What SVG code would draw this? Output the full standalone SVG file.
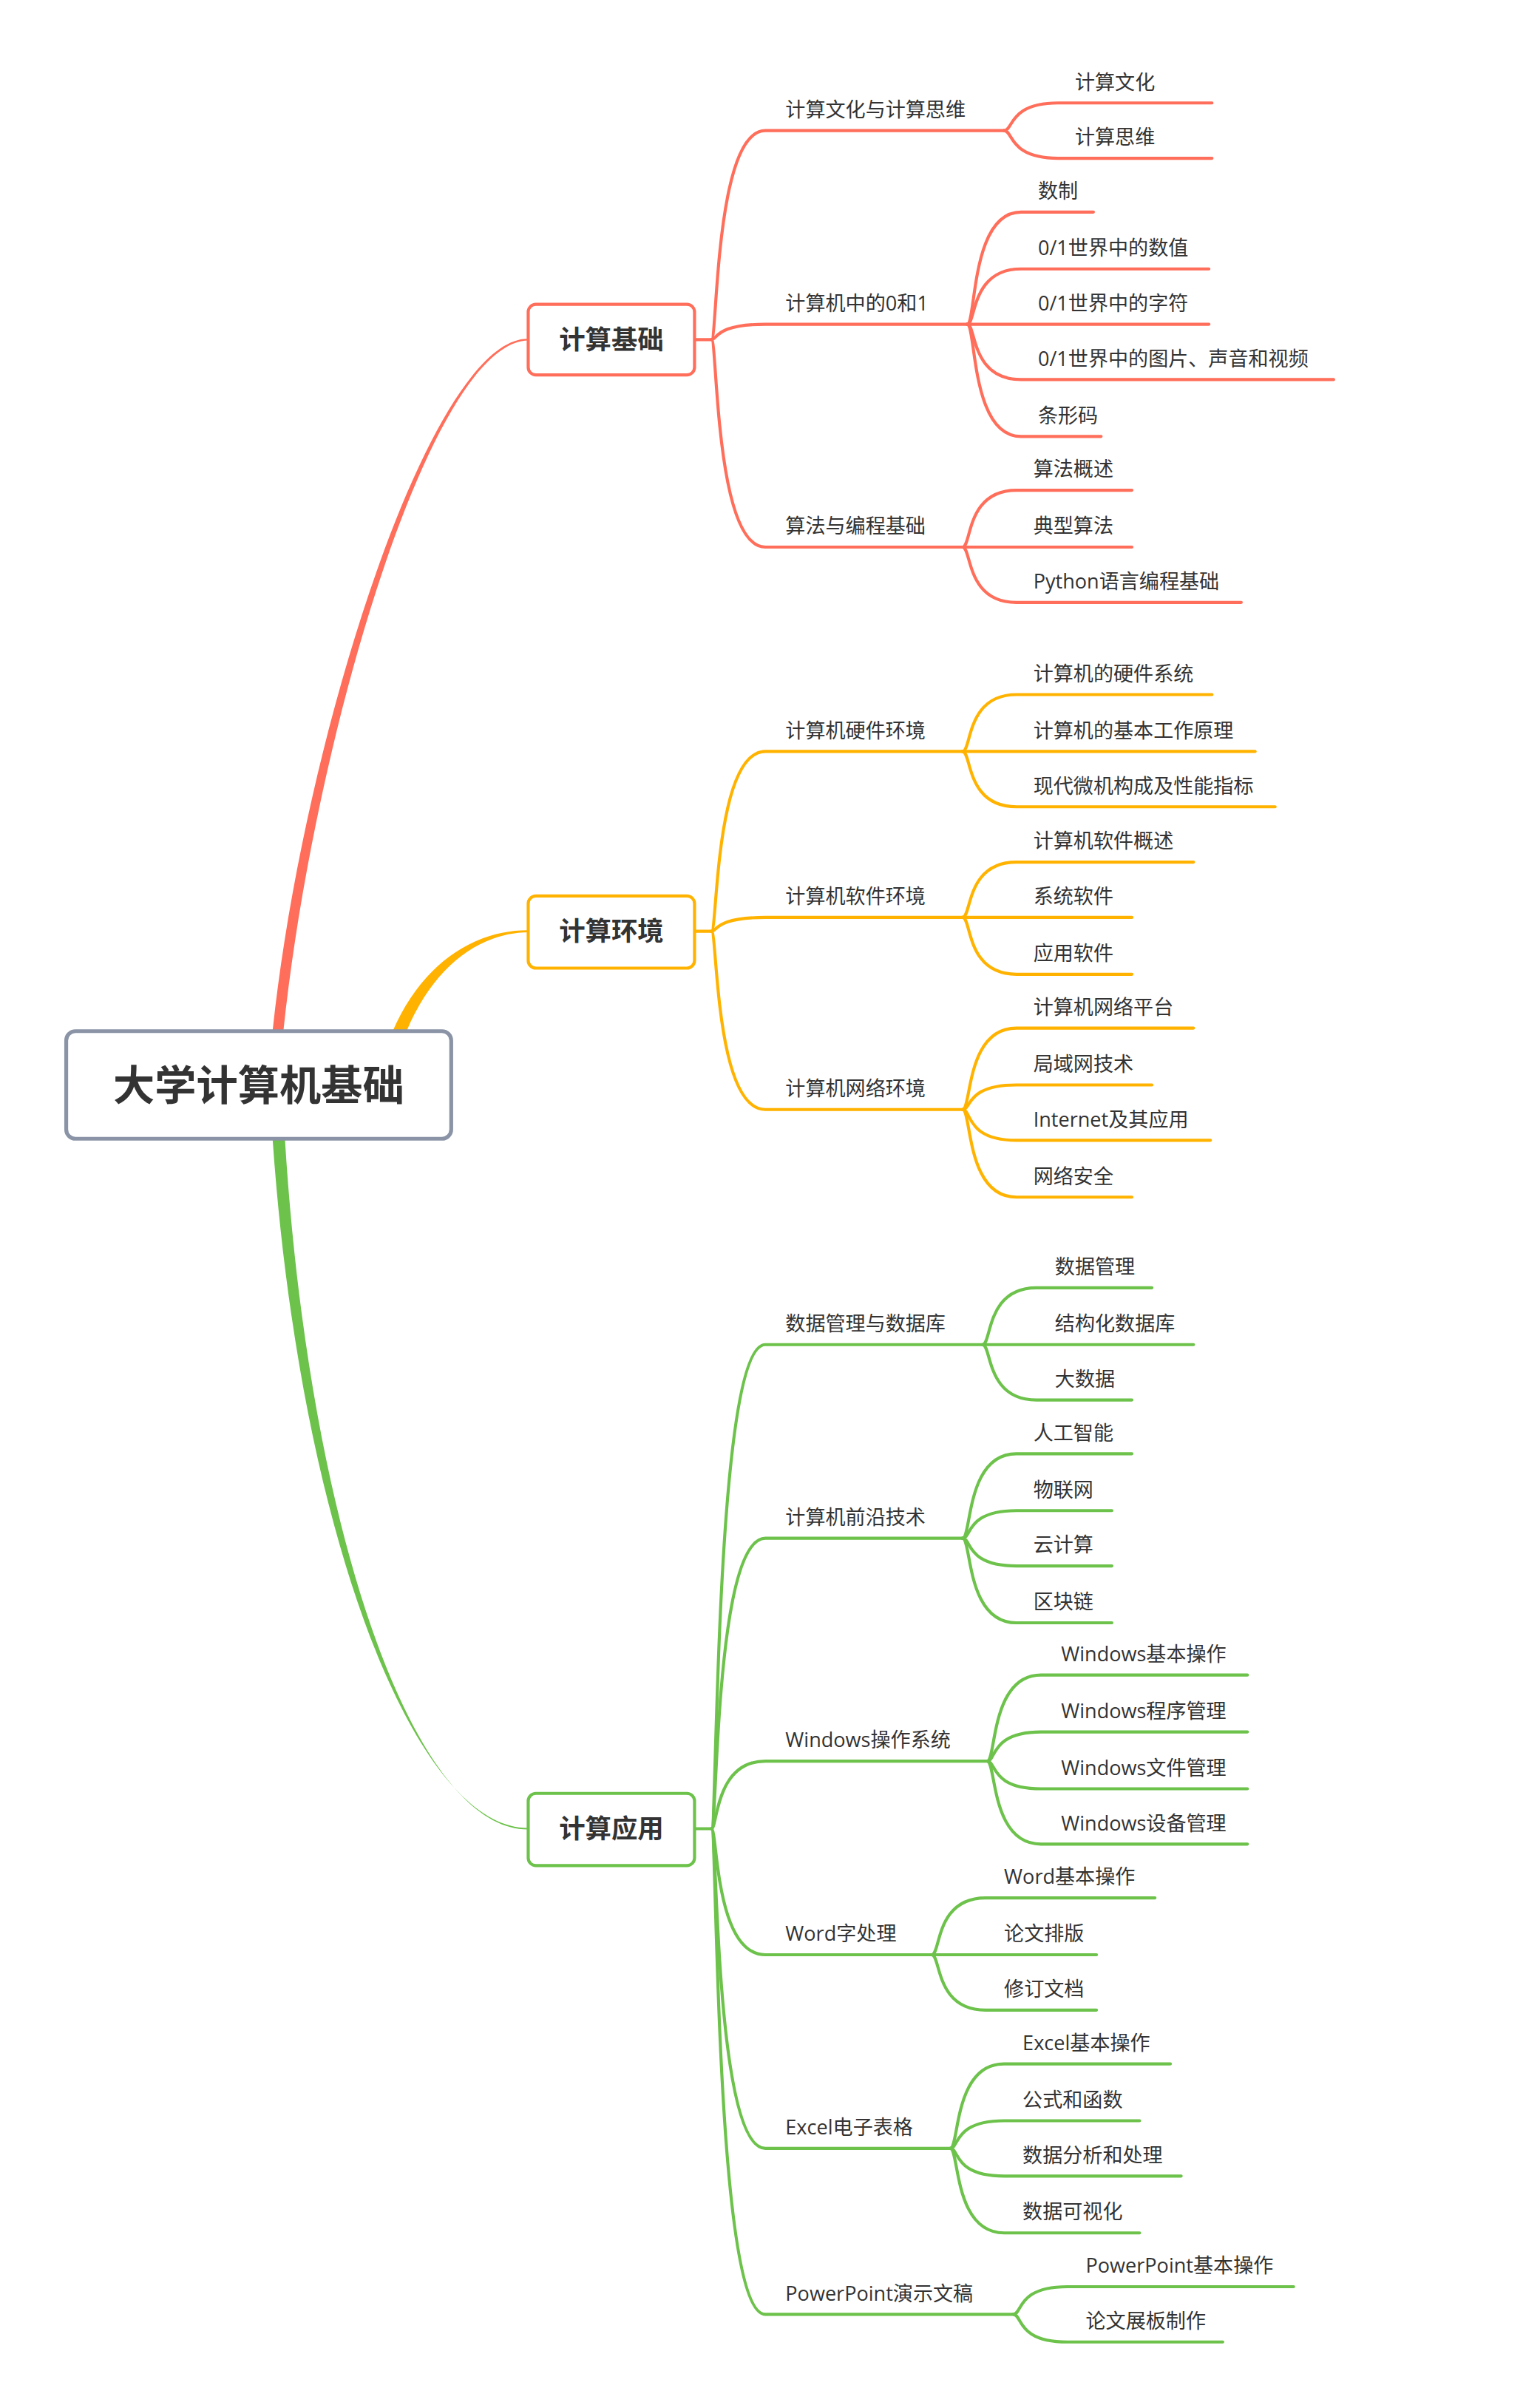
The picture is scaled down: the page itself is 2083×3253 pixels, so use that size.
<svg xmlns="http://www.w3.org/2000/svg" width="2083" height="3253" viewBox="0 0 2083 3253">
<style>
.t{font-family:"Open Sans","Noto Sans CJK SC",sans-serif;font-size:13px;fill:#333}
.b{font-family:"Noto Sans CJK SC",sans-serif;font-weight:bold;font-size:17px;fill:#333;text-anchor:middle}
.r{stroke:#FF6E5A}.y{stroke:#FFB300}.g{stroke:#6CC24A}
.c path{fill:none;stroke-width:2;stroke-linecap:round}
</style>
<rect width="2083" height="3253" fill="#fff"/>
<g transform="scale(2.083,2.0786)">
<g id="connectors" class="c">
<path d="M177,671 C197,480 280,219.5 343,220.5 L343,221.5 C280,222.5 204,480 184,671 Z" style="fill:#FF6E5A;stroke:none"/>
<path d="M255,671 C275,625 310,605 343,605.3 L343,606.7 C312,607 282,628 264,671 Z" style="fill:#FFB300;stroke:none"/>
<path d="M177,741 C195,1000 270,1190 343,1189.5 L343,1190.5 C270,1191 201,1000 185,741 Z" style="fill:#6CC24A;stroke:none"/>
<g class="r">
<path d="M451,221 L462,221 C466,221 464,85 497,85 L652,85"/>
<path d="M462,221 C466,221 464,211 497,211 L628,211"/>
<path d="M462,221 C466,221 464,356 497,356 L625,356"/>
<path d="M652,85 C658,85 655,67 687,67 L787,67"/>
<path d="M652,85 C658,85 655,103 687,103 L787,103"/>
<path d="M628,211 C634,211 630,138 663,138 L710,138"/>
<path d="M628,211 C634,211 630,175 663,175 L785,175"/>
<path d="M628,211 L785,211"/>
<path d="M628,211 C634,211 630,247 663,247 L866,247"/>
<path d="M628,211 C634,211 630,284 663,284 L715,284"/>
<path d="M625,356 C631,356 627,319 660,319 L735,319"/>
<path d="M625,356 L735,356"/>
<path d="M625,356 C631,356 627,392 660,392 L806,392"/>
</g>
<g class="y">
<path d="M451,606 L462,606 C466,606 464,489 497,489 L625,489"/>
<path d="M462,606 C466,606 464,597 497,597 L625,597"/>
<path d="M462,606 C466,606 464,722 497,722 L625,722"/>
<path d="M625,489 C631,489 627,452 660,452 L787,452"/>
<path d="M625,489 L815,489"/>
<path d="M625,489 C631,489 627,525 660,525 L828,525"/>
<path d="M625,597 C631,597 627,561 660,561 L775,561"/>
<path d="M625,597 L735,597"/>
<path d="M625,597 C631,597 627,634 660,634 L735,634"/>
<path d="M625,722 C631,722 627,669 660,669 L775,669"/>
<path d="M625,722 C631,722 627,706 660,706 L748,706"/>
<path d="M625,722 C631,722 627,742 660,742 L786,742"/>
<path d="M625,722 C631,722 627,779 660,779 L735,779"/>
</g>
<g class="g">
<path d="M451,1190 L462,1190 C466,1190 464,875 497,875 L638,875"/>
<path d="M462,1190 C466,1190 464,1001 497,1001 L625,1001"/>
<path d="M462,1190 C466,1190 464,1146 497,1146 L641,1146"/>
<path d="M462,1190 C466,1190 464,1272 497,1272 L605,1272"/>
<path d="M462,1190 C466,1190 464,1398 497,1398 L617,1398"/>
<path d="M462,1190 C466,1190 464,1506 497,1506 L658,1506"/>
<path d="M638,875 C644,875 640,838 673,838 L748,838"/>
<path d="M638,875 L775,875"/>
<path d="M638,875 C644,875 640,911 673,911 L735,911"/>
<path d="M625,1001 C631,1001 627,946 660,946 L735,946"/>
<path d="M625,1001 C631,1001 627,983 660,983 L722,983"/>
<path d="M625,1001 C631,1001 627,1019 660,1019 L722,1019"/>
<path d="M625,1001 C631,1001 627,1056 660,1056 L722,1056"/>
<path d="M641,1146 C647,1146 643,1090 676,1090 L810,1090"/>
<path d="M641,1146 C647,1146 643,1127 676,1127 L810,1127"/>
<path d="M641,1146 C647,1146 643,1164 676,1164 L810,1164"/>
<path d="M641,1146 C647,1146 643,1200 676,1200 L810,1200"/>
<path d="M605,1272 C611,1272 607,1235 640,1235 L750,1235"/>
<path d="M605,1272 L712,1272"/>
<path d="M605,1272 C611,1272 607,1308 640,1308 L712,1308"/>
<path d="M617,1398 C623,1398 619,1343 652,1343 L760,1343"/>
<path d="M617,1398 C623,1398 619,1380 652,1380 L740,1380"/>
<path d="M617,1398 C623,1398 619,1416 652,1416 L767,1416"/>
<path d="M617,1398 C623,1398 619,1453 652,1453 L740,1453"/>
<path d="M658,1506 C664,1506 660,1488 693,1488 L840,1488"/>
<path d="M658,1506 C664,1506 660,1524 693,1524 L794,1524"/>
</g>
</g>
<g id="root"><rect x="43" y="671" width="250" height="70" rx="6" fill="#fff" stroke="#8a94a6" stroke-width="2.5"/><text x="168" y="716" class="b" style="font-size:27px">大学计算机基础</text></g>
<g id="n1"><rect x="343" y="198" width="108" height="46" rx="5" fill="#fff" stroke="#FF6E5A" stroke-width="2"/><text x="397" y="227" class="b">计算基础</text></g>
<g id="n2"><rect x="343" y="583" width="108" height="47" rx="5" fill="#fff" stroke="#FFB300" stroke-width="2"/><text x="397" y="612" class="b">计算环境</text></g>
<g id="n3"><rect x="343" y="1167" width="108" height="47" rx="5" fill="#fff" stroke="#6CC24A" stroke-width="2"/><text x="397" y="1196" class="b">计算应用</text></g>
<g id="labels" class="t">
<text x="510" y="76">计算文化与计算思维</text>
<text x="698" y="58">计算文化</text>
<text x="698" y="94">计算思维</text>
<text x="510" y="202">计算机中的0和1</text>
<text x="674" y="129">数制</text>
<text x="674" y="166">0/1世界中的数值</text>
<text x="674" y="202">0/1世界中的字符</text>
<text x="674" y="238">0/1世界中的图片、声音和视频</text>
<text x="674" y="275">条形码</text>
<text x="510" y="347">算法与编程基础</text>
<text x="671" y="310">算法概述</text>
<text x="671" y="347">典型算法</text>
<text x="671" y="383">Python语言编程基础</text>
<text x="510" y="480">计算机硬件环境</text>
<text x="671" y="443">计算机的硬件系统</text>
<text x="671" y="480">计算机的基本工作原理</text>
<text x="671" y="516">现代微机构成及性能指标</text>
<text x="510" y="588">计算机软件环境</text>
<text x="671" y="552">计算机软件概述</text>
<text x="671" y="588">系统软件</text>
<text x="671" y="625">应用软件</text>
<text x="510" y="713">计算机网络环境</text>
<text x="671" y="660">计算机网络平台</text>
<text x="671" y="697">局域网技术</text>
<text x="671" y="733">Internet及其应用</text>
<text x="671" y="770">网络安全</text>
<text x="510" y="866">数据管理与数据库</text>
<text x="685" y="829">数据管理</text>
<text x="685" y="866">结构化数据库</text>
<text x="685" y="902">大数据</text>
<text x="510" y="992">计算机前沿技术</text>
<text x="671" y="937">人工智能</text>
<text x="671" y="974">物联网</text>
<text x="671" y="1010">云计算</text>
<text x="671" y="1047">区块链</text>
<text x="510" y="1137">Windows操作系统</text>
<text x="689" y="1081">Windows基本操作</text>
<text x="689" y="1118">Windows程序管理</text>
<text x="689" y="1155">Windows文件管理</text>
<text x="689" y="1191">Windows设备管理</text>
<text x="510" y="1263">Word字处理</text>
<text x="652" y="1226">Word基本操作</text>
<text x="652" y="1263">论文排版</text>
<text x="652" y="1299">修订文档</text>
<text x="510" y="1389">Excel电子表格</text>
<text x="664" y="1334">Excel基本操作</text>
<text x="664" y="1371">公式和函数</text>
<text x="664" y="1407">数据分析和处理</text>
<text x="664" y="1444">数据可视化</text>
<text x="510" y="1497">PowerPoint演示文稿</text>
<text x="705" y="1479">PowerPoint基本操作</text>
<text x="705" y="1515">论文展板制作</text>
</g>
</g>
</svg>
